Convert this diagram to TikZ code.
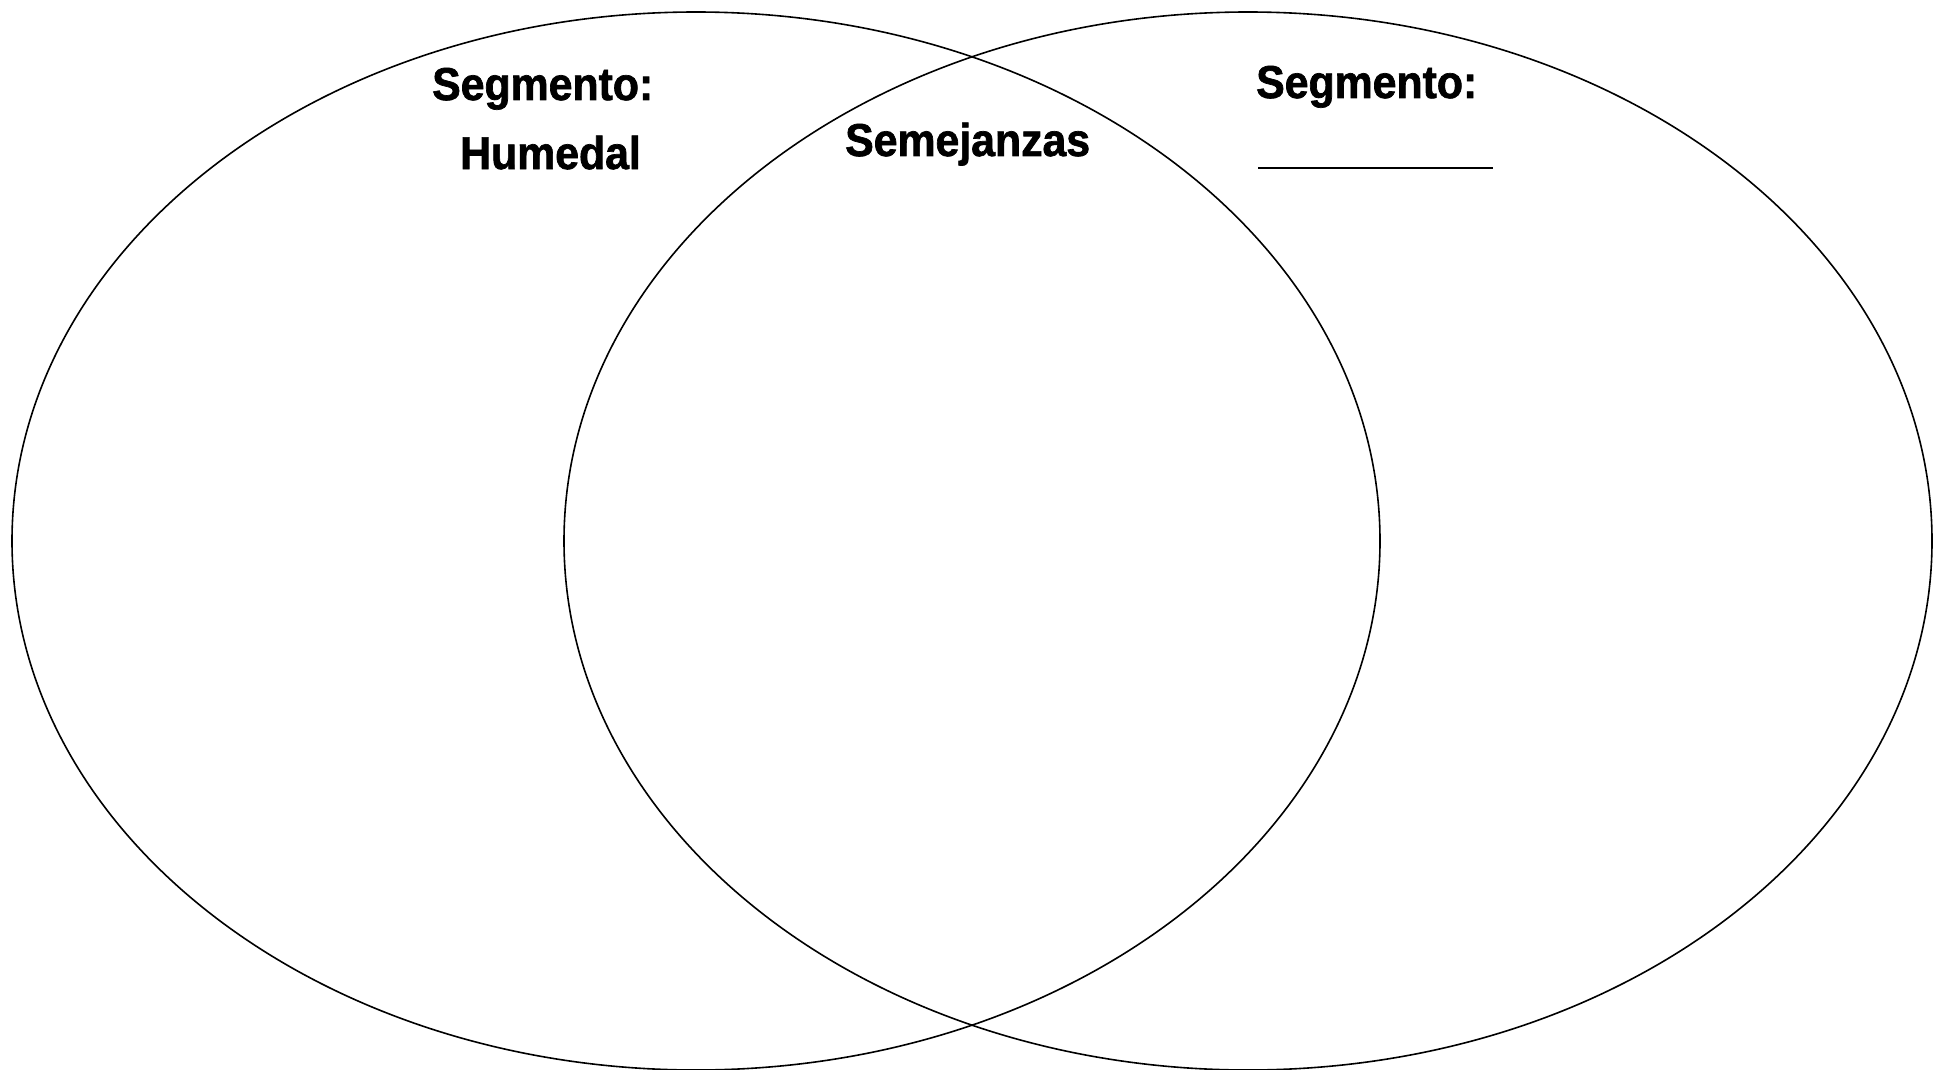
\documentclass[tikz,border=0pt]{standalone}
\usepackage{fontspec}
\setmainfont{Liberation Sans}
\newfontfamily\lblfont[FakeStretch=0.93,FakeBold=1.5]{Liberation Sans Bold}
\begin{document}
\begin{tikzpicture}[x=1pt,y=-1pt,
  venn/.style={draw=black,line width=1.6pt},
  lbl/.style={inner sep=0pt,anchor=base west,font=\lblfont\fontsize{46}{50}\selectfont}]
\useasboundingbox[fill=white] (0,0) rectangle (1933,1070);
\draw[venn] (696,541) ellipse [x radius=684, y radius=529];
\draw[venn] (1248,541) ellipse [x radius=684, y radius=529];
\node[lbl] (segL) at (432,100) {Segmento:};
\node[lbl] (hum) at (460,169) {Humedal};
\node[lbl] (sem) at (845,156) {Semejanzas};
\node[lbl] (segR) at (1256,98) {Segmento:};
\coordinate (blankA) at (1258,168);
\coordinate (blankB) at (1493,168);
\draw[line width=2pt] (blankA) -- (blankB);
\end{tikzpicture}
\end{document}
